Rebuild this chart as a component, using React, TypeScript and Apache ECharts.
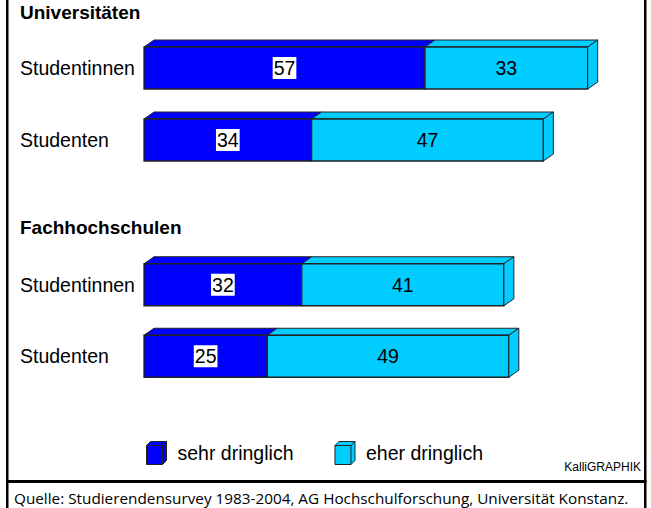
import React, { useEffect, useRef } from "react";
import * as echarts from "echarts";

const categories = ["Studentinnen", "Studenten"];
const groupTitles = ["Universitäten", "Fachhochschulen"];
const seriesNames = ["sehr dringlich", "eher dringlich"];
const uniSehr = [57, 34];
const uniEher = [33, 47];
const fhSehr = [32, 25];
const fhEher = [41, 49];
const sourceText = "Quelle: Studierendensurvey 1983-2004, AG Hochschulforschung, Universität Konstanz.";
const creditText = "KalliGRAPHIK";

const DARK = "#0000FF";
const LIGHT = "#00CCFF";
const EDGE = "#222222";
const FONT = '"Liberation Sans", Arial, sans-serif';

function buildData(sehr: number[], eher: number[], seg: number) {
  return categories.map((_, i) =>
    seg === 0 ? [0, sehr[i], i, 0, 0] : [sehr[i], sehr[i] + eher[i], i, 1, 1]
  );
}

function renderItem(params: any, api: any) {
  const s = api.value(0);
  const e = api.value(1);
  const c = api.value(2);
  const seg = api.value(3);
  const last = api.value(4);
  const p0 = api.coord([s, c]);
  const p1 = api.coord([e, c]);
  const h = 42;
  const dx = 10;
  const dy = 7;
  const yTop = p0[1] - h / 2;
  const yBot = yTop + h;
  const fill = seg === 0 ? DARK : LIGHT;
  const children: any[] = [
    {
      type: "polygon",
      shape: {
        points: [
          [p0[0], yTop],
          [p0[0] + dx, yTop - dy],
          [p1[0] + dx, yTop - dy],
          [p1[0], yTop],
        ],
      },
      style: { fill, stroke: EDGE, lineWidth: 1 },
    },
    {
      type: "rect",
      shape: { x: p0[0], y: yTop, width: p1[0] - p0[0], height: h },
      style: { fill, stroke: EDGE, lineWidth: 1.3 },
    },
  ];
  if (last) {
    children.push({
      type: "polygon",
      shape: {
        points: [
          [p1[0], yTop],
          [p1[0] + dx, yTop - dy],
          [p1[0] + dx, yBot - dy],
          [p1[0], yBot],
        ],
      },
      style: { fill, stroke: EDGE, lineWidth: 1 },
    });
  }
  const labelStyle: any = {
    text: String(e - s),
    fill: "#000",
    fontSize: 19.5,
    fontFamily: FONT,
    align: "center",
    verticalAlign: "middle",
  };
  if (seg === 0) {
    labelStyle.backgroundColor = "#fff";
    labelStyle.padding = [2, 1, 0, 1];
  }
  children.push({
    type: "text",
    x: (p0[0] + p1[0]) / 2,
    y: p0[1],
    style: labelStyle,
  });
  return { type: "group", children };
}

export default function App() {
  const ref = useRef<HTMLDivElement>(null);
  useEffect(() => {
    const chart = echarts.init(ref.current!, undefined, { renderer: "svg" });
    const groups = [
      { sehr: uniSehr, eher: uniEher },
      { sehr: fhSehr, eher: fhEher },
    ];
    const grids = [
      { left: 144, width: 493, top: 32, height: 144 },
      { left: 144, width: 493, top: 249, height: 143 },
    ];
    const series: any[] = [];
    groups.forEach((g, gi) => {
      [0, 1].forEach((seg) => {
        series.push({
          type: "custom",
          name: seriesNames[seg],
          xAxisIndex: gi,
          yAxisIndex: gi,
          itemStyle: { color: seg === 0 ? DARK : LIGHT },
          renderItem,
          encode: { x: [0, 1], y: 2 },
          data: buildData(g.sehr, g.eher, seg),
          clip: false,
          z: 2 + seg,
        });
      });
    });
    const boxIcon =
      "path://M0,4L4,0L20,0L20,19L16,23L0,23Z M0,4L16,4L16,23 M16,4L20,0";
    chart.setOption({
      animation: false,
      backgroundColor: "#fff",
      grid: grids,
      xAxis: grids.map((_, i) => ({
        type: "value",
        gridIndex: i,
        min: 0,
        max: 100,
        show: false,
      })),
      yAxis: grids.map((_, i) => ({
        type: "category",
        gridIndex: i,
        data: categories,
        inverse: true,
        axisLine: { show: false },
        axisTick: { show: false },
        splitLine: { show: false },
        axisLabel: {
          align: "left",
          margin: 124,
          fontSize: 19.5,
          fontFamily: FONT,
          color: "#000",
        },
      })),
      legend: {
        data: seriesNames,
        left: 146,
        top: 441,
        padding: 0,
        itemWidth: 20,
        itemHeight: 23,
        itemGap: 41,
        icon: boxIcon,
        itemStyle: { borderColor: EDGE, borderWidth: 1 },
        textStyle: {
          fontSize: 19.5,
          fontFamily: FONT,
          color: "#000",
          padding: [0, 0, 0, 6],
        },
        selectedMode: false,
      },
      graphic: [
        {
          type: "text",
          left: 20,
          top: 3,
          style: {
            text: groupTitles[0],
            fontSize: 19,
            fontWeight: "bold",
            fontFamily: FONT,
            fill: "#000",
          },
        },
        {
          type: "text",
          left: 20,
          top: 218,
          style: {
            text: groupTitles[1],
            fontSize: 19,
            fontWeight: "bold",
            fontFamily: FONT,
            fill: "#000",
          },
        },
        {
          type: "text",
          right: 10,
          top: 461,
          style: {
            text: creditText,
            fontSize: 12,
            fontFamily: FONT,
            fill: "#000",
          },
        },
        {
          type: "text",
          left: 14,
          top: 490,
          style: {
            text: sourceText,
            fontSize: 15.3,
            fontFamily: '"Open Sans", sans-serif',
            fill: "#000",
          },
        },
        { type: "rect", shape: { x: 6, y: 0, width: 2.5, height: 508 }, style: { fill: "#000" } },
        { type: "rect", shape: { x: 644, y: 0, width: 2.5, height: 508 }, style: { fill: "#000" } },
        { type: "rect", shape: { x: 6, y: 480, width: 640.5, height: 3 }, style: { fill: "#000" } },
      ],
      series,
    });
    return () => chart.dispose();
  }, []);
  return (
    <div
      ref={ref}
      style={{ position: "fixed", left: 0, top: 0, width: 651, height: 508 }}
    />
  );
}
